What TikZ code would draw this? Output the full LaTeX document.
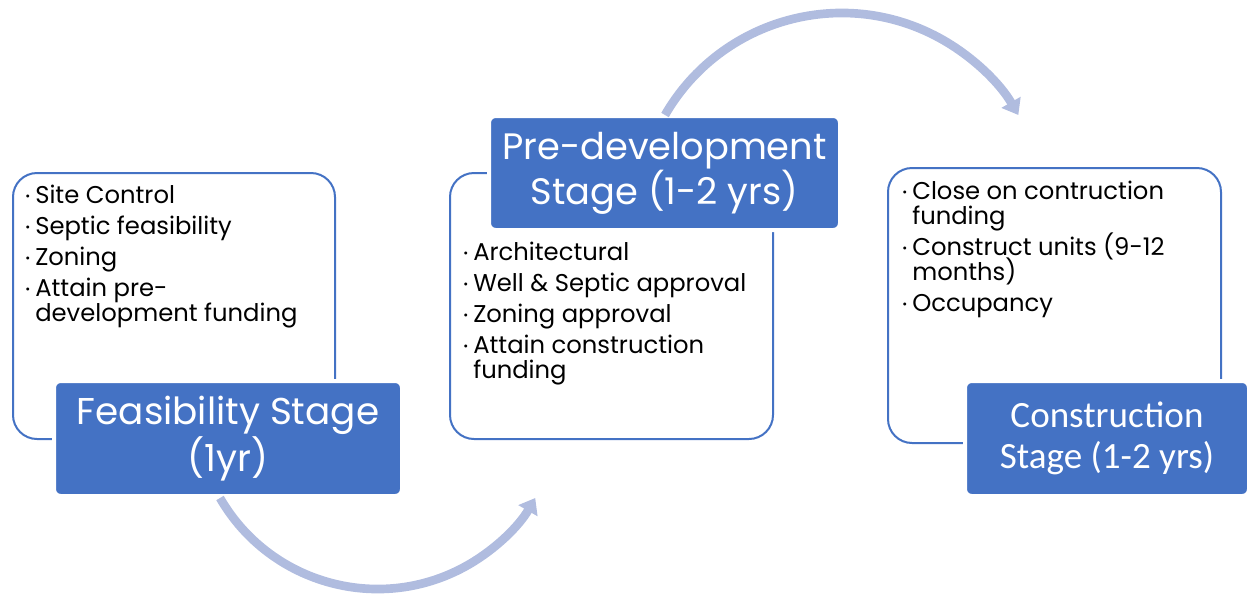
\documentclass[tikz,border=0pt]{standalone}
\usepackage{fontspec}
\setmainfont{Poppins}
\newfontfamily\calib{Carlito}
\usetikzlibrary{arrows.meta}
\definecolor{stageblue}{RGB}{68,114,196}
\definecolor{flowblue}{RGB}{176,188,223}
\newcommand\bl{\makebox[7.5pt][l]{\raisebox{2pt}{\fontsize{9}{9}\selectfont •}}}
\newcommand\ind{\hspace*{7.5pt}}
\newcommand\lst[1]{\vtop{\fontsize{18.2}{18.75}\selectfont\baselineskip=18.75pt\lineskiplimit=-50pt\lineskip=0pt #1}}
\newcommand\gap{\vskip4.5pt}
\begin{document}
\begin{tikzpicture}[x=0.75pt,y=-0.75pt,
  holder/.style={draw=stageblue,line width=1.5pt,rounded corners=18pt,fill=white,inner sep=0pt},
  stagebox/.style={fill=stageblue,draw=white,line width=3pt,rounded corners=5pt,text=white,align=center,inner sep=0pt},
  listtext/.style={anchor=base west,inner sep=0pt,text=black},
  flow/.style={draw=flowblue,line width=6.5pt,-{Triangle[width=16pt,length=11pt]}}]
\useasboundingbox (0,0) rectangle (1247,597);
% holders
\node[holder,minimum width=241.5pt,minimum height=199.5pt] (w1) at (174,306) {};
\node[holder,minimum width=242.25pt,minimum height=199.5pt] (w2) at (611.5,306) {};
\node[holder,minimum width=249.75pt,minimum height=206.25pt] (w3) at (1054.5,305.5) {};
% lists
\node[listtext] (l1) at (25,203) {\lst{%
  \hbox{\bl Site Control}\gap
  \hbox{\bl Septic feasibility}\gap
  \hbox{\bl Zoning}\gap
  \hbox{\bl Attain pre-}
  \hbox{\ind development funding}}};
\node[listtext] (l2) at (463,260) {\lst{%
  \hbox{\bl Architectural}\gap
  \hbox{\bl Well \& Septic approval}\gap
  \hbox{\bl Zoning approval}\gap
  \hbox{\bl Attain construction}
  \hbox{\ind funding}}};
\node[listtext] (l3) at (902,199) {\lst{%
  \hbox{\bl Close on contruction}
  \hbox{\ind funding}\gap
  \hbox{\bl Construct units (9-12}
  \hbox{\ind months)}\gap
  \hbox{\bl Occupancy}}};
% stage boxes
\node[stagebox,minimum width=261pt,minimum height=86.25pt,font=\fontsize{28}{29.25}\selectfont] (b1) at (228,438.5) {Feasibility Stage\\(1yr)};
\node[stagebox,minimum width=263.25pt,minimum height=85.5pt,font=\fontsize{27.6}{29.5}\selectfont] (b2) at (664.5,173) {Pre-development\\Stage (1-2 yrs)};
\node[stagebox,minimum width=213pt,minimum height=86.25pt,font=\calib\fontsize{27.8}{31}\selectfont] (b3) at (1107,438.5) {Construction\\Stage (1-2 yrs)};
% arrows
\coordinate (a1s) at (220,498);
\coordinate (a2s) at (665,115);
\draw[flow] (a1s) arc[start angle=150,end angle=30,radius=182];
\draw[flow] (a2s) arc[start angle=210,end angle=330,radius=204];
\end{tikzpicture}
\end{document}
